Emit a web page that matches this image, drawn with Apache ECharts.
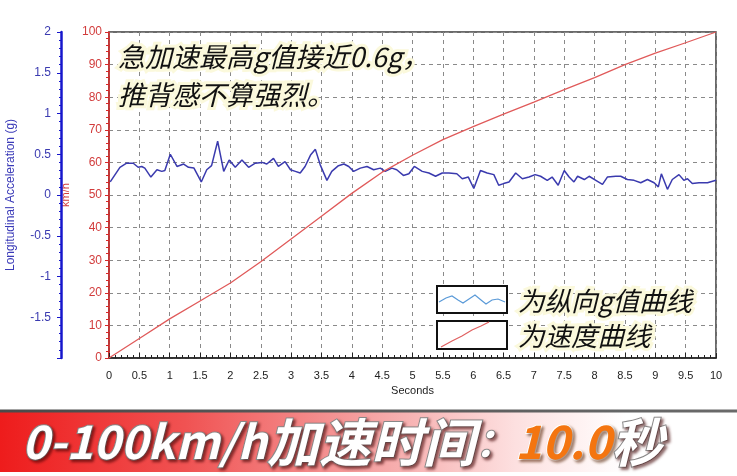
<!DOCTYPE html>
<html><head><meta charset="utf-8">
<script src="https://cdn.jsdelivr.net/npm/echarts@6/dist/echarts.min.js"></script>
<style>html,body{margin:0;padding:0;background:#fff}#c{width:737px;height:476px}</style>
</head><body><div id="c"></div>
<script>
// ---- data ----
const gTime = [0.02,0.18,0.29,0.40,0.48,0.54,0.59,0.69,0.79,0.87,0.92,1.01,1.12,1.23,1.31,1.40,1.52,1.61,1.69,1.79,1.89,1.98,2.08,2.19,2.30,2.41,2.52,2.60,2.71,2.79,2.90,2.99,3.07,3.15,3.23,3.32,3.40,3.48,3.59,3.67,3.78,3.87,3.95,4.03,4.14,4.25,4.36,4.47,4.55,4.66,4.74,4.85,4.94,5.03,5.16,5.27,5.38,5.49,5.60,5.73,5.82,5.92,6.01,6.12,6.23,6.34,6.42,6.50,6.59,6.70,6.81,6.92,7.02,7.11,7.22,7.30,7.40,7.50,7.58,7.66,7.72,7.83,7.91,8.02,8.13,8.21,8.35,8.43,8.54,8.65,8.76,8.87,8.98,9.05,9.10,9.20,9.28,9.39,9.47,9.53,9.61,9.72,9.86,10.0];
const gValue = [0.16,0.34,0.39,0.39,0.34,0.35,0.33,0.22,0.31,0.29,0.30,0.50,0.35,0.38,0.34,0.33,0.16,0.31,0.36,0.66,0.29,0.43,0.34,0.43,0.34,0.39,0.40,0.38,0.45,0.35,0.41,0.31,0.29,0.27,0.35,0.49,0.56,0.37,0.18,0.29,0.36,0.38,0.35,0.29,0.33,0.35,0.31,0.33,0.29,0.33,0.31,0.24,0.26,0.35,0.29,0.27,0.23,0.27,0.27,0.26,0.20,0.22,0.08,0.30,0.27,0.25,0.12,0.14,0.16,0.27,0.20,0.22,0.25,0.23,0.18,0.22,0.12,0.30,0.22,0.16,0.23,0.19,0.23,0.18,0.13,0.22,0.23,0.23,0.19,0.18,0.15,0.19,0.15,0.10,0.26,0.07,0.19,0.25,0.18,0.20,0.14,0.15,0.15,0.18];
const speedTime = [0,0.5,1,1.5,2,2.5,3,3.5,4,4.5,5,5.5,6,6.5,7,7.5,8,8.5,9,9.5,10];
const speedValue = [0,6,12,17.5,23,29.5,36.5,43.5,50.5,57,62.2,67,71,74.8,78.5,82.3,86,90,93.5,96.7,100];
const xRange = [0, 10, 0.5];
const speedRange = [0, 100, 10];
const gRange = [-2, 2, 0.5];
const axisNames = ['Seconds', 'km/h', 'Longitudinal Acceleration (g)'];
const noteLines = ['急加速最高g值接近0.6g，', '推背感不算强烈。'];
const legendLabels = ['为纵向g值曲线', '为速度曲线'];
const bannerParts = ['0-100km/h', '加速时间', '：', '10.0', '秒'];

// ---- chart ----
const chart = echarts.init(document.getElementById('c'), null, {renderer: 'canvas'});
const cjk = '"Noto Sans CJK SC", "Noto Sans", sans-serif';
const dash = {type: [4, 4], color: '#8a8a8a', width: 1};
const halo = '#fbf9dc';
const shadowW = {stroke: '#8a8a8a', lineWidth: 2, textShadowColor: 'rgba(60,0,0,0.55)', textShadowBlur: 3, textShadowOffsetX: 2, textShadowOffsetY: 2};

const option = {
  animation: false,
  backgroundColor: '#fff',
  grid: {left: 109, right: 21, top: 32, bottom: 118, show: true, borderColor: '#3a3a3a', borderWidth: 1.5, containLabel: false, outerBoundsMode: 'none'},
  xAxis: {
    type: 'value', min: xRange[0], max: xRange[1], interval: xRange[2],
    name: axisNames[0], nameLocation: 'middle', nameGap: 27,
    nameTextStyle: {color: '#222', fontSize: 11, fontFamily: 'Liberation Sans'},
    axisLine: {show: true, lineStyle: {color: '#222', width: 1.5}},
    axisTick: {show: true, inside: true, length: 5, lineStyle: {color: '#222'}},
    minorTick: {show: true, splitNumber: 5, length: 3, lineStyle: {color: '#222'}},
    axisLabel: {color: '#222', fontSize: 11, margin: 12, fontFamily: 'Liberation Sans'},
    splitLine: {show: true, lineStyle: dash}
  },
  yAxis: [{
    type: 'value', position: 'left', min: speedRange[0], max: speedRange[1], interval: speedRange[2],
    name: axisNames[1], nameLocation: 'middle', nameGap: 37,
    nameTextStyle: {color: '#d23c3c', fontSize: 11, fontFamily: 'Liberation Sans'},
    axisLine: {show: true, lineStyle: {color: '#d82828', width: 1.5}},
    axisTick: {show: true, length: 4, lineStyle: {color: '#d82828'}},
    minorTick: {show: true, splitNumber: 5, length: 3, lineStyle: {color: '#d82828'}},
    axisLabel: {color: '#d23c3c', fontSize: 12, margin: 7, fontFamily: 'Liberation Sans'},
    splitLine: {show: true, lineStyle: dash}
  }, {
    type: 'value', position: 'left', offset: 48, min: gRange[0], max: gRange[1], interval: gRange[2],
    name: axisNames[2], nameLocation: 'middle', nameGap: 44,
    nameTextStyle: {color: '#3a3ab8', fontSize: 12, fontFamily: 'Liberation Sans'},
    axisLine: {show: true, lineStyle: {color: '#1616cc', width: 2.5}},
    axisTick: {show: true, length: 4, lineStyle: {color: '#1616cc'}},
    minorTick: {show: true, splitNumber: 5, length: 2, lineStyle: {color: '#1616cc'}},
    axisLabel: {color: '#3a3ab0', fontSize: 12, margin: 10, showMinLabel: false, fontFamily: 'Liberation Sans'},
    splitLine: {show: false}
  }],
  series: [{
    type: 'line', yAxisIndex: 1, symbol: 'none', z: 3,
    data: gTime.map((t, i) => [t, gValue[i]]),
    lineStyle: {color: '#3a3aae', width: 1.5}
  }, {
    type: 'line', yAxisIndex: 0, symbol: 'none', z: 4,
    data: speedTime.map((t, i) => [t, speedValue[i]]),
    lineStyle: {color: '#e05a5a', width: 1.3}
  }],
  graphic: [
    {type: 'text', z: 100, style: {x: 118, y: 57, text: noteLines[0], font: 'italic 27px ' + cjk, fill: '#111', stroke: halo, lineWidth: 6, verticalAlign: 'middle'}},
    {type: 'text', z: 100, style: {x: 118, y: 95, text: noteLines[1], font: 'italic 27px ' + cjk, fill: '#111', stroke: halo, lineWidth: 6, verticalAlign: 'middle'}},
    {type: 'rect', z: 100, shape: {x: 437, y: 286, width: 70, height: 27}, style: {fill: '#fff', stroke: '#111', lineWidth: 2}},
    {type: 'polyline', z: 101, shape: {points: [[439,302],[446,298],[452,296],[458,300],[463,303],[469,299],[475,295],[481,300],[486,304],[492,300],[498,299],[505,302]]}, style: {stroke: '#5a9ad8', lineWidth: 1.2, fill: null}},
    {type: 'rect', z: 100, shape: {x: 437, y: 321, width: 70, height: 28}, style: {fill: '#fff', stroke: '#111', lineWidth: 2}},
    {type: 'polyline', z: 101, shape: {points: [[441,347],[452,341],[462,336],[472,330],[481,326],[489,322]]}, style: {stroke: '#e06060', lineWidth: 1.2, fill: null}},
    {type: 'text', z: 100, style: {x: 518, y: 301, text: legendLabels[0], font: 'italic 26.5px ' + cjk, fill: '#111', stroke: halo, lineWidth: 6, verticalAlign: 'middle'}},
    {type: 'text', z: 100, style: {x: 518, y: 336, text: legendLabels[1], font: 'italic 26.5px ' + cjk, fill: '#111', stroke: halo, lineWidth: 6, verticalAlign: 'middle'}},
    {type: 'rect', z: 100, shape: {x: 0, y: 412, width: 737, height: 60},
      style: {fill: new echarts.graphic.LinearGradient(0, 0, 1, 0, [
        {offset: 0, color: '#ee1c1c'}, {offset: 0.25, color: '#f05252'}, {offset: 0.5, color: '#f5a2a2'},
        {offset: 0.7, color: '#fde0e0'}, {offset: 0.85, color: '#ffffff'}, {offset: 1, color: '#ffffff'}])}},
    {type: 'line', z: 101, shape: {x1: 0, y1: 411, x2: 737, y2: 411},
      style: {stroke: new echarts.graphic.LinearGradient(0, 0, 1, 0, [{offset: 0, color: '#4a4a4a'}, {offset: 1, color: '#6a6a6a'}]), lineWidth: 3}},
    {type: 'text', z: 102, style: {
      x: 22, y: 442, verticalAlign: 'middle',
      text: '{a|' + bannerParts[0] + '}{c|' + bannerParts[1] + '}{d|' + bannerParts[2] + '}{b|' + bannerParts[3] + '}{c|' + bannerParts[4] + '}',
      rich: {
        a: Object.assign({fill: '#fff', fontSize: 46, fontWeight: 'bold', fontStyle: 'italic', fontFamily: cjk}, shadowW),
        c: Object.assign({fill: '#fff', fontSize: 52, fontWeight: 'bold', fontStyle: 'italic', fontFamily: cjk}, shadowW),
        d: Object.assign({fill: '#fff', fontSize: 40, fontWeight: 'bold', fontStyle: 'italic', fontFamily: cjk}, shadowW),
        b: {fill: '#f47510', fontSize: 46, fontWeight: 'bold', fontStyle: 'italic', fontFamily: cjk,
            stroke: '#fff', lineWidth: 2, textShadowColor: 'rgba(80,30,0,0.5)', textShadowBlur: 3, textShadowOffsetX: 2, textShadowOffsetY: 2}
      }
    }}
  ]
};
chart.setOption(option);
</script>
</body></html>
